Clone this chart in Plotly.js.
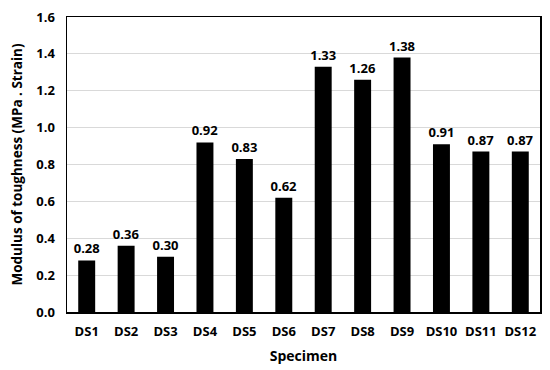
<!DOCTYPE html>
<html><head><meta charset="utf-8">
<script src="https://cdn.plot.ly/plotly-3.0.1.min.js"></script>
<style>html,body{margin:0;padding:0;background:#fff}</style>
</head><body>
<div id="chart" style="width:550px;height:370px"></div>
<script>
const specimens = ["DS1","DS2","DS3","DS4","DS5","DS6","DS7","DS8","DS9","DS10","DS11","DS12"];
const toughness = [0.28,0.36,0.30,0.92,0.83,0.62,1.33,1.26,1.38,0.91,0.87,0.87];
const yTicks = [0,0.2,0.4,0.6,0.8,1.0,1.2,1.4,1.6];

const font = "Open Sans, Liberation Sans, sans-serif";
Plotly.newPlot("chart", [{
  type: "bar",
  x: specimens,
  y: toughness,
  marker: {color: "#000000"},
  text: toughness.map(v => v.toFixed(2)),
  textposition: "outside",
  constraintext: "none",
  cliponaxis: false,
  textfont: {family: font, size: 13, color: "#000", weight: "bold"},
  hoverinfo: "skip"
}], {
  width: 550, height: 370,
  margin: {l: 67, r: 10, t: 17, b: 58},
  paper_bgcolor: "#fff", plot_bgcolor: "#fff",
  bargap: 0.57,
  showlegend: false,
  font: {family: font, color: "#000"},
  xaxis: {
    showline: true, linecolor: "#000", linewidth: 1.5, mirror: true,
    ticks: "", ticklabelstandoff: 7, tickfont: {family: font, size: 13, weight: "bold"},
    title: {text: "Specimen", font: {family: font, size: 14, weight: "bold"}, standoff: 12}
  },
  yaxis: {
    range: [0, 1.6], tickvals: yTicks, ticktext: yTicks.map(v => v.toFixed(1)),
    showline: true, linecolor: "#000", linewidth: 1.5, mirror: true,
    showgrid: true, gridcolor: "#d9d9d9", gridwidth: 1,
    zeroline: false, ticks: "", ticklabelstandoff: 8,
    tickfont: {family: font, size: 13, weight: "bold"},
    title: {text: "Modulus of toughness (MPa . Strain)", font: {family: font, size: 13.5, weight: "bold"}, standoff: 10}
  }
}, {displayModeBar: false, staticPlot: true});
</script>
</body></html>
